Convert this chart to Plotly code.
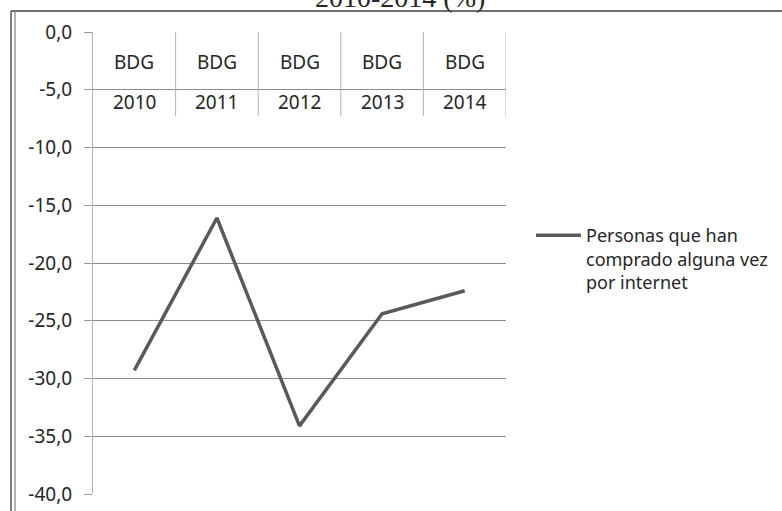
import plotly.graph_objects as go

# ---- data ----
years = ["2010", "2011", "2012", "2013", "2014"]
groups = ["BDG", "BDG", "BDG", "BDG", "BDG"]
values = [-29.3, -16.1, -34.1, -24.4, -22.4]
y_ticks = [0, -5, -10, -15, -20, -25, -30, -35, -40]
y_tick_labels = ["0,0", "-5,0", "-10,0", "-15,0", "-20,0", "-25,0", "-30,0", "-35,0", "-40,0"]
series_name = "Personas que han<br>comprado alguna vez<br>por internet"
title_text = "2010-2014 (%)"

FONT = "Noto Sans"
TXT = "#262626"

# layout geometry (screen pixels; page body margin is removed below)
OFF = 0
W, H = 782, 511
PX0, PX1 = 93, 506      # plot area left/right on screen
PY0, PY1 = 32, 494      # plot area top/bottom on screen
L = PX0 - OFF
T = PY0 - OFF
R = W - (PX1 - OFF)
B = H - (PY1 - OFF)
pw = PX1 - PX0
ph = PY1 - PY0

def px_x(p):
    return (p - PX0) / pw

def px_y(p):
    return (PY1 - p) / ph

fig = go.Figure()
fig.add_trace(go.Scatter(
    x=years, y=values, mode="lines", name=series_name,
    line=dict(color="#595959", width=3.5),
    showlegend=True,
))

annotations = []
shapes = []
for i, (g, yr) in enumerate(zip(groups, years)):
    annotations.append(dict(x=i, y=-2.57, xref="x", yref="y", text=g,
                            showarrow=False, font=dict(family=FONT, size=19, color=TXT),
                            xanchor="center", yanchor="middle"))
    annotations.append(dict(x=i, y=-6.05, xref="x", yref="y", text=yr,
                            showarrow=False, font=dict(family=FONT, size=19, color=TXT),
                            xanchor="center", yanchor="middle"))
    shapes.append(dict(type="line", xref="x", yref="y", x0=i + 0.5, x1=i + 0.5,
                       y0=0, y1=-7.3, line=dict(color="#b3b3b3", width=1)))

# title (mostly cut off at top, as in the original)
annotations.append(dict(x=px_x(400), y=px_y(-3), xref="paper", yref="paper",
                        text=title_text, showarrow=False,
                        font=dict(family="Liberation Serif", size=28, color=TXT),
                        xanchor="center", yanchor="middle"))

# chart frame: top line and double left line
shapes.append(dict(type="line", xref="paper", yref="paper",
                   x0=px_x(11), x1=px_x(800), y0=px_y(11), y1=px_y(11),
                   line=dict(color="#404040", width=1.5)))
shapes.append(dict(type="line", xref="paper", yref="paper",
                   x0=px_x(11), x1=px_x(11), y0=px_y(11), y1=px_y(530),
                   line=dict(color="#555555", width=1.5)))
shapes.append(dict(type="line", xref="paper", yref="paper",
                   x0=px_x(15), x1=px_x(15), y0=px_y(12), y1=px_y(530),
                   line=dict(color="#9a9a9a", width=1.5)))

fig.update_layout(
    width=W, height=H,
    margin=dict(l=L, r=R, t=T, b=B, pad=0, autoexpand=False),
    paper_bgcolor="white", plot_bgcolor="white",
    font=dict(family=FONT, size=19, color=TXT),
    xaxis=dict(type="category", range=[-0.5, 4.5], showticklabels=False,
               showgrid=False, zeroline=False, showline=False, ticks="",
               automargin=False),
    yaxis=dict(range=[-40, 0], tickvals=y_ticks, ticktext=y_tick_labels,
               showgrid=True, gridcolor="#8c8c8c", gridwidth=1,
               zeroline=False, showline=True, linecolor="#b3b3b3", linewidth=1,
               ticks="outside", ticklen=8, tickcolor="#9a9a9a", tickwidth=1,
               ticklabelstandoff=8, automargin=False,
               tickfont=dict(family=FONT, size=19, color=TXT)),
    legend=dict(x=px_x(531), y=px_y(217), xanchor="left", yanchor="top",
                valign="top", bgcolor="rgba(0,0,0,0)", itemwidth=45,
                font=dict(family=FONT, size=18, color=TXT),
                tracegroupgap=0),
    shapes=shapes,
    annotations=annotations,
)

fig.write_html("out.html",
               config={"displayModeBar": False},
               post_script="document.body.style.margin='0';document.body.style.padding='0';")
